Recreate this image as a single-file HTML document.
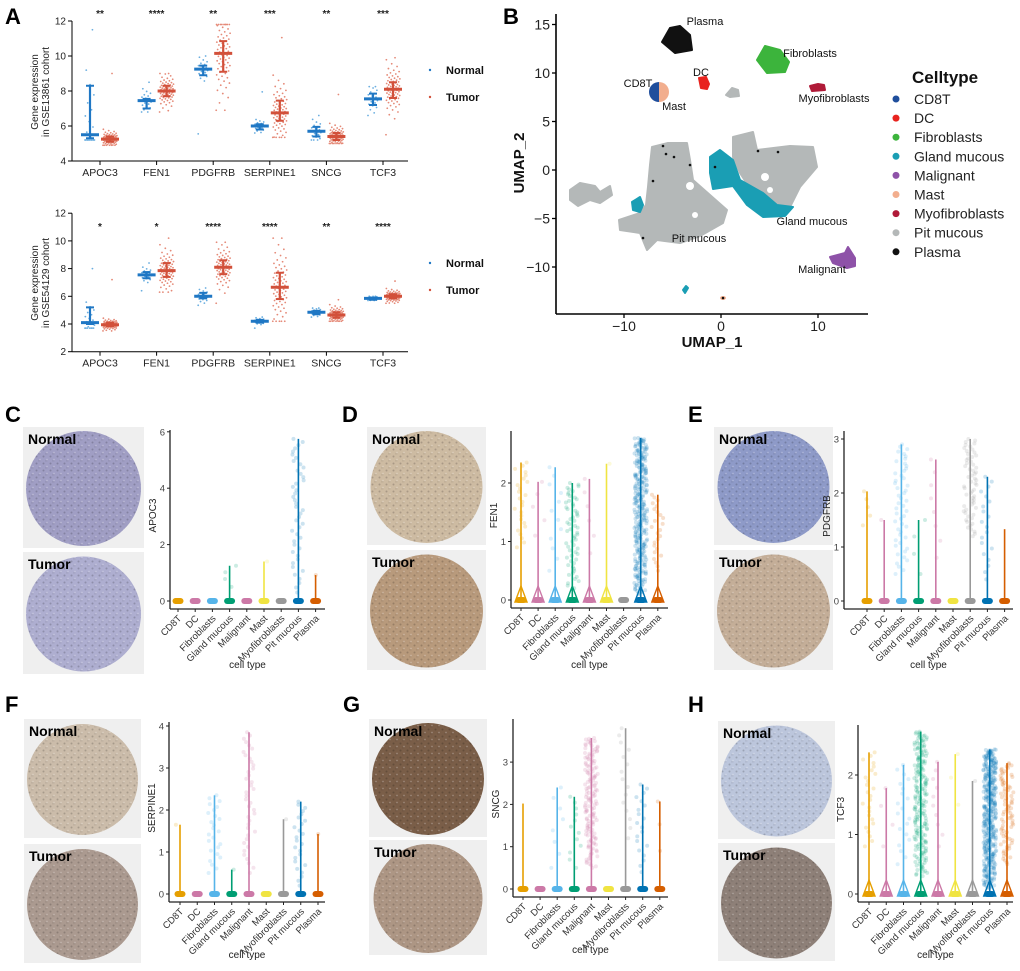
<!DOCTYPE html>
<html><head><meta charset="utf-8"><title>Figure</title>
<style>
html,body{margin:0;padding:0;background:#fff;}
svg{display:block;font-family:"Liberation Sans",Arial,sans-serif;}
</style></head>
<body>
<svg id="fig" width="1020" height="971" viewBox="0 0 1020 971" xmlns="http://www.w3.org/2000/svg">
<defs>
<pattern id="tex" width="7" height="7" patternUnits="userSpaceOnUse">
<circle cx="1.5" cy="1.5" r="1" fill="#000" fill-opacity="0.18"/>
<circle cx="5" cy="4.5" r="0.9" fill="#fff" fill-opacity="0.25"/>
<rect x="3" y="5.5" width="2.5" height="0.8" fill="#000" fill-opacity="0.12"/>
</pattern>
</defs>
</svg>
<script>
// ===== Panel A data =====
const genesA = ['APOC3','FEN1','PDGFRB','SERPINE1','SNCG','TCF3'];
const sigTop = ['**','****','**','***','**','***'];
const sigBot = ['*','*','****','****','**','****'];
const nMedTop = [5.5,7.45,9.25,6.0,5.7,7.55];
const nLoTop  = [5.3,7.0,8.9,5.8,5.4,7.2];
const nHiTop  = [8.3,7.55,9.45,6.1,5.95,7.85];
const nMinTop = [5.2,6.8,5.55,5.6,5.2,6.6];
const nMaxTop = [11.5,8.5,10.0,7.95,6.6,8.25];
const tMedTop = [5.25,8.0,10.15,6.75,5.4,8.1];
const tLoTop  = [5.1,7.7,9.1,6.3,5.2,7.6];
const tHiTop  = [5.4,8.3,10.85,7.45,5.6,8.5];
const tMinTop = [4.9,6.8,6.9,5.35,5.0,5.5];
const tMaxTop = [9.0,9.0,11.8,11.05,7.8,9.9];
const nMedBot = [4.1,7.55,6.0,4.2,4.85,5.85];
const nLoBot  = [4.0,7.3,5.85,4.1,4.7,5.75];
const nHiBot  = [5.2,7.75,6.25,4.3,4.95,5.9];
const nMinBot = [3.7,6.4,5.35,3.7,4.5,5.7];
const nMaxBot = [8.0,8.4,6.6,4.5,5.15,6.0];
const tMedBot = [3.95,7.85,8.1,6.65,4.65,6.0];
const tLoBot  = [3.85,7.4,7.6,5.8,4.45,5.85];
const tHiBot  = [4.1,8.4,8.6,7.7,4.85,6.15];
const tMinBot = [3.5,6.3,5.5,4.2,4.2,5.5];
const tMaxBot = [7.2,10.2,9.9,10.2,5.75,7.1];
const yTicksA = [4,6,8,10,12];
const yTicksA2 = [2,4,6,8,10,12];

// ===== Violin data =====
const cellTypes = ['CD8T','DC','Fibroblasts','Gland mucous','Malignant','Mast','Myofibroblasts','Pit mucous','Plasma'];
const cellColors = ['#E69F00','#CC79A7','#56B4E9','#009E73','#CC79A7','#F0E442','#999999','#0072B2','#D55E00'];
const apoc3Max = [0,0,0,1.25,0,1.4,0,5.75,0.92];
const apoc3Cnt = [0,0,0,4,0,1,0,45,1];
const apoc3Low = [0,0,0,0.5,0,1.4,0,0.3,0.9];
const fen1Max = [2.35,2.02,2.27,2.0,2.07,2.33,0,2.77,1.8];
const fen1Cnt = [25,5,12,60,6,1,0,300,25];
const fen1Low = [0.9,1.1,0.5,0.2,0.8,2.3,0,0.1,0.5];
const pdgfrbMax = [2.03,1.5,2.9,1.5,2.62,0,3.0,2.3,1.33];
const pdgfrbCnt = [5,1,50,4,8,0,60,20,0];
const pdgfrbLow = [1.4,1.5,0.5,0.5,0.8,0,1.2,0.4,0];
const serpMax = [1.65,0,2.35,0.58,3.85,0,1.78,2.2,1.43];
const serpCnt = [1,0,25,1,40,0,1,25,1];
const serpLow = [1.65,0,0.5,0.58,0.5,0,1.78,0.2,1.43];
const sncgMax = [2.02,0,2.4,2.18,3.57,0,3.8,2.47,2.07];
const sncgCnt = [0,0,8,12,150,0,15,20,3];
const sncgLow = [0,0,0.5,0.5,0.5,0,1.2,0.4,0.9];
const tcf3Max = [2.38,1.78,2.17,2.73,2.22,2.35,1.9,2.43,2.2];
const tcf3Cnt = [25,4,20,200,10,3,1,400,80];
const tcf3Low = [0.8,0.8,0.5,0.3,0.8,1.5,1.9,0.1,0.5];

// ===== UMAP legend =====
const umapTypes = ['CD8T','DC','Fibroblasts','Gland mucous','Malignant','Mast','Myofibroblasts','Pit mucous','Plasma'];
const umapColors = ['#1f4e9c','#e8231e','#3cb43c','#1a9eb4','#8e52a8','#f2ae8e','#b01a38','#b4b8b8','#111111'];
const umapXTicks = [-10,0,10];
const umapYTicks = [-10,-5,0,5,10,15];

const NS = 'http://www.w3.org/2000/svg';
const svg = document.getElementById('fig');
function mk(tag, attrs, parent, txt){
  const e = document.createElementNS(NS, tag);
  for (const k in attrs) e.setAttribute(k, attrs[k]);
  if (txt !== undefined) e.textContent = txt;
  (parent || svg).appendChild(e);
  return e;
}
function grp(name){
  const g = mk('g', {});
  
  
  return g;
}
function label(parent, name, x, y, txt, attrs){
  const a = Object.assign({x:x, y:y}, attrs || {});
  const t = mk('text', a, parent, txt);
  
  
  return t;
}
function zq(t){
  const p = Math.min(Math.max(t, 0.001), 0.999);
  return Math.log(p/(1-p))/1.7;
}
function gj(k){ return ((k*0.6180339887)%1) - 0.5; }
function hj(k){ const s = Math.sin(k*12.9898+78.233)*43758.5453; return (s - Math.floor(s)) - 0.5; }

[['A',5,24],['B',503,24],['C',5,422],['D',342,422],['E',688,422],['F',5,712],['G',343,712],['H',688,712]].forEach(l=>{
  label(svg, 'panel-label-'+l[0].toLowerCase(), l[1], l[2], l[0], {'font-size':22,'font-weight':'bold',fill:'#000'});
});

// ===== Panel A =====
function panelA(cfg){
  const g = grp(cfg.name);
  const y = v => cfg.yBase - (v - cfg.vBase) * cfg.ppu;
  const gx = i => 100 + 56.6*i;
  const ax = mk('line', {x1:72,y1:y(cfg.ticks[0]),x2:72,y2:y(12),stroke:'#000','stroke-width':1}, g);
   
  const xa = mk('line', {x1:72,y1:y(cfg.ticks[0]),x2:408,y2:y(cfg.ticks[0]),stroke:'#000','stroke-width':1}, g);
   
  cfg.ticks.forEach(t=>{
    mk('line',{x1:68,y1:y(t),x2:72,y2:y(t),stroke:'#000'},g);
    label(g,'y-tick-label',66,y(t)+3.5,String(t),{'font-size':10,'text-anchor':'end',fill:'#222'});
  });
  const yl = mk('text',{transform:`translate(38,${cfg.labelY}) rotate(-90)`,'font-size':10,'text-anchor':'middle',fill:'#222'},g);
   
  mk('tspan',{x:0,dy:0},yl,'Gene expression');
  mk('tspan',{x:0,dy:11},yl,cfg.cohort);
  genesA.forEach((gn,i)=>{
    mk('line',{x1:gx(i),y1:y(cfg.ticks[0]),x2:gx(i),y2:y(cfg.ticks[0])+4,stroke:'#000'},g);
    label(g,'x-tick-label',gx(i),y(cfg.ticks[0])+15,gn,{'font-size':10.5,'text-anchor':'middle',fill:'#222'});
    label(g,'significance-stars',gx(i),cfg.starY,cfg.sig[i],{'font-size':10,'text-anchor':'middle',fill:'#222','font-weight':'bold'});
    [[cfg.nMed,cfg.nLo,cfg.nHi,cfg.nMin,cfg.nMax,-10,'#1f77c4','#6aaee0',20,'normal',10],
     [cfg.tMed,cfg.tLo,cfg.tHi,cfg.tMin,cfg.tMax,10,'#d2503a','#e58a78',70,'tumor',14]].forEach(s=>{
      const cx = gx(i)+s[5];
      const n = s[8];
      const spread = (s[2][i]-s[1][i])/1.2;
      for(let k=0;k<n;k++){
        let v = s[0][i] + zq((k+0.5)/n)*spread;
        if(k===0) v = s[3][i];
        if(k===n-1) v = s[4][i];
        v = Math.min(Math.max(v,s[3][i]),s[4][i]);
        const jx = gj(k)*s[10];
        const d = mk('circle',{cx:cx+jx,cy:y(v),r:0.9,fill:s[7]},g);
        
        
      }
      const eb = mk('line',{x1:cx,y1:y(s[1][i]),x2:cx,y2:y(s[2][i]),stroke:s[6],'stroke-width':2.2},g);
      
      
      mk('line',{x1:cx-4,y1:y(s[1][i]),x2:cx+4,y2:y(s[1][i]),stroke:s[6],'stroke-width':2},g);
      mk('line',{x1:cx-4,y1:y(s[2][i]),x2:cx+4,y2:y(s[2][i]),stroke:s[6],'stroke-width':2},g);
      const md = mk('line',{x1:cx-9,y1:y(s[0][i]),x2:cx+9,y2:y(s[0][i]),stroke:s[6],'stroke-width':3},g);
      
      
    });
  });
  const lg = mk('g',{},g);
   
  mk('circle',{cx:430,cy:cfg.legY,r:1.2,fill:'#1f77c4'},lg);
  label(lg,'legend-entry-normal',446,cfg.legY+4,'Normal',{'font-size':11,'font-weight':'bold',fill:'#111'});
  mk('circle',{cx:430,cy:cfg.legY+27,r:1.2,fill:'#d2503a'},lg);
  label(lg,'legend-entry-tumor',446,cfg.legY+31,'Tumor',{'font-size':11,'font-weight':'bold',fill:'#111'});
}
panelA({name:'chart-gse13861',yBase:161,vBase:4,ppu:17.5,ticks:yTicksA,labelY:92,cohort:'in GSE13861 cohort',starY:17,sig:sigTop,
  nMed:nMedTop,nLo:nLoTop,nHi:nHiTop,nMin:nMinTop,nMax:nMaxTop,tMed:tMedTop,tLo:tLoTop,tHi:tHiTop,tMin:tMinTop,tMax:tMaxTop,legY:70});
panelA({name:'chart-gse54129',yBase:324,vBase:4,ppu:13.85,ticks:yTicksA2,labelY:283,cohort:'in GSE54129 cohort',starY:230,sig:sigBot,
  nMed:nMedBot,nLo:nLoBot,nHi:nHiBot,nMin:nMinBot,nMax:nMaxBot,tMed:tMedBot,tLo:tLoBot,tHi:tHiBot,tMin:tMinBot,tMax:tMaxBot,legY:263});

// ===== Panel B UMAP =====
(function(){
  const g = grp('umap-plot');
  const ux = u => 721 + 9.7*u;
  const uy = v => 170 - 9.7*v;
  const blobs = [
    ['pit-mucous-cluster','#b4b8b8','570,190 580,183 595,186 600,192 610,186 612,195 600,203 590,200 578,206 570,200'],
    ['pit-mucous-cluster','#b4b8b8','652,147 668,143 687,143 690,160 693,180 710,195 727,210 723,223 700,236 680,243 657,240 647,250 640,233 620,230 619,220 640,213 646,205 648,187 650,165'],
    ['pit-mucous-cluster','#b4b8b8','733,137 753,132 757,150 790,146 813,147 817,167 800,187 790,207 765,200 753,193 740,173 733,157'],
    ['gland-mucous-cluster','#1a9eb4','710,157 720,150 733,160 740,180 763,193 777,205 793,207 785,216 763,217 747,205 733,186 713,189 710,173'],
    ['gland-mucous-cluster','#1a9eb4','632,202 640,197 643,205 640,212 633,210'],
    ['pit-mucous-cluster','#b4b8b8','726,95 732,88 738,90 739,96 730,97'],
    ['plasma-cluster','#111111','662,42 670,28 680,26 690,35 692,50 675,53'],
    ['fibroblasts-cluster','#3cb43c','757,60 765,46 780,50 789,62 785,72 767,73'],
    ['myofibroblasts-cluster','#b01a38','810,86 818,84 824,85 825,90 812,91'],
    ['dc-cluster','#e8231e','699,78 706,77 709,84 707,89 701,88'],
    ['malignant-cluster','#8e52a8','830,257 845,253 848,247 855,258 855,266 847,268 833,263'],
    ['gland-mucous-cluster','#1a9eb4','683,290 686,286 688,288 685,293'],
  ];
  blobs.forEach(b=>{
    const p = mk('polygon',{points:b[2],fill:b[1],stroke:b[1],'stroke-width':2,'stroke-linejoin':'round'},g);
    
    
  });
  [[690,186,4],[695,215,3],[765,177,4],[770,190,3]].forEach(c=>mk('circle',{cx:c[0],cy:c[1],r:c[2],fill:'#fff'},g));
  const cd = mk('path',{d:'M659,82 A10,10 0 0 0 659,102 Z',fill:'#1f4e9c'},g);
   
  const ms = mk('path',{d:'M659,82 A10,10 0 0 1 659,102 Z',fill:'#f2ae8e'},g);
   
  mk('ellipse',{cx:723,cy:298,rx:3,ry:2,fill:'#f2ae8e'},g);
  mk('circle',{cx:723,cy:298,r:1.3,fill:'#111'},g);
  [[663,146],[666,154],[674,157],[690,165],[653,181],[643,238],[715,167],[758,151],[778,152]].forEach(c=>mk('circle',{cx:c[0],cy:c[1],r:1.3,fill:'#111'},g));
  const ya = mk('line',{x1:556,y1:14,x2:556,y2:314,stroke:'#000','stroke-width':1.6},g);
   
  const xa = mk('line',{x1:556,y1:314,x2:868,y2:314,stroke:'#000','stroke-width':1.6},g);
   
  umapYTicks.forEach(t=>{
    mk('line',{x1:552,y1:uy(t),x2:556,y2:uy(t),stroke:'#000','stroke-width':1.3},g);
    label(g,'y-tick-label',550,uy(t)+5,String(t).replace('-','\u2212'),{'font-size':14,'text-anchor':'end',fill:'#222'});
  });
  umapXTicks.forEach(t=>{
    mk('line',{x1:ux(t),y1:314,x2:ux(t),y2:318,stroke:'#000','stroke-width':1.3},g);
    label(g,'x-tick-label',ux(t),331,String(t).replace('-','\u2212'),{'font-size':14,'text-anchor':'middle',fill:'#222'});
  });
  label(g,'x-axis-title',712,347,'UMAP_1',{'font-size':15,'font-weight':'bold','text-anchor':'middle',fill:'#111'});
  label(g,'y-axis-title',0,0,'UMAP_2',{'font-size':15,'font-weight':'bold','text-anchor':'middle',fill:'#111',transform:'translate(524,163) rotate(-90)'});
  [['Plasma',705,25],['Fibroblasts',810,57],['DC',701,76],['CD8T',638,87],['Mast',674,110],['Myofibroblasts',834,102],['Gland mucous',812,225],['Pit mucous',699,242],['Malignant',822,273]].forEach(l=>{
    label(g,'cluster-label',l[1],l[2],l[0],{'font-size':11,'text-anchor':'middle',fill:'#111'});
  });
  const lg = mk('g',{},g);
   
  label(lg,'legend-title',912,83,'Celltype',{'font-size':17,'font-weight':'bold',fill:'#111'});
  umapTypes.forEach((t,i)=>{
    const yy = 99 + 19.1*i;
    mk('circle',{cx:896,cy:yy,r:3.5,fill:umapColors[i]},lg);
    label(lg,'legend-entry',914,yy+5,t,{'font-size':14,fill:'#222'});
  });
})();

// ===== Tissue images =====
function tissue(name, x, y, w, h, fill, dark, txt){
  const g = grp(name);
  mk('rect',{x:x,y:y,width:w,height:h,fill:'#efefef'},g);
  const r = Math.min(w,h)/2 - 3;
  const c = mk('circle',{cx:x+w/2,cy:y+h/2+1,r:r,fill:fill},g);
   
  mk('circle',{cx:x+w/2,cy:y+h/2+1,r:r,fill:'url(#tex)'},g);
  label(g,'tissue-label',x+5,y+17,txt,{'font-size':14,'font-weight':'bold',fill:'#000'});
}
tissue('ihc-c-normal',23,427,121,121,'#a09ec4','#6e6aa0','Normal');
tissue('ihc-c-tumor',23,552,121,122,'#aeaed0','#7874a8','Tumor');
tissue('ihc-d-normal',367,427,119,118,'#cdbba2','#8e6e50','Normal');
tissue('ihc-d-tumor',367,550,119,120,'#b89a7c','#7a5432','Tumor');
tissue('ihc-e-normal',714,427,119,118,'#8e9ac8','#5060a0','Normal');
tissue('ihc-e-tumor',714,550,119,120,'#c4ae98','#8a6e58','Tumor');
tissue('ihc-f-normal',24,719,117,119,'#cbbcaa','#8e7660','Normal');
tissue('ihc-f-tumor',24,844,117,119,'#ab9a90','#7a6058','Tumor');
tissue('ihc-g-normal',369,719,118,118,'#7a5e48','#3e2a1e','Normal');
tissue('ihc-g-tumor',369,840,118,115,'#ad9684','#6e4e38','Tumor');
tissue('ihc-h-normal',718,721,117,118,'#bcc6dc','#8292bc','Normal');
tissue('ihc-h-tumor',718,843,117,118,'#8e8078','#5a4a40','Tumor');

// ===== Violin panels =====
function violin(cfg){
  const g = grp(cfg.name);
  const y = v => cfg.y0 - v*cfg.ppu;
  const cx = i => cfg.cx0 + cfg.step*i;
  const axisY = cfg.y0 + 8;
  const ya = mk('line',{x1:cfg.ax,y1:cfg.top,x2:cfg.ax,y2:axisY,stroke:'#222','stroke-width':1.3},g);
   
  const xa = mk('line',{x1:cfg.ax,y1:axisY,x2:cfg.axEnd,y2:axisY,stroke:'#222','stroke-width':1.3},g);
   
  cfg.ticks.forEach(t=>{
    mk('line',{x1:cfg.ax-3,y1:y(t),x2:cfg.ax,y2:y(t),stroke:'#222'},g);
    label(g,'y-tick-label',cfg.ax-5,y(t)+3.5,String(t),{'font-size':9.5,'text-anchor':'end',fill:'#444'});
  });
  label(g,'y-axis-title',0,0,cfg.gene,{'font-size':10,'text-anchor':'middle',fill:'#222',transform:`translate(${cfg.ax-14},${(cfg.top+cfg.y0)/2}) rotate(-90)`});
  label(g,'x-axis-title',(cfg.ax+cfg.axEnd)/2,cfg.xtY,'cell type',{'font-size':10,'text-anchor':'middle',fill:'#222'});
  cellTypes.forEach((ct,i)=>{
    const x = cx(i), col = cellColors[i];
    mk('line',{x1:x,y1:axisY,x2:x,y2:axisY+3,stroke:'#222'},g);
    label(g,'x-tick-label',0,0,ct,{'font-size':9.5,'text-anchor':'end',fill:'#333',transform:`translate(${x+4},${axisY+10}) rotate(-45)`});
    const mx = cfg.max[i];
    const n = cfg.cnt[i], lo = cfg.low[i];
    for(let k=0;k<n;k++){
      const t = n===1 ? 1 : k/(n-1);
      const v = lo + (mx-lo)*Math.pow(t,0.9);
      const jx = hj(k+i*1000)*13;
      const d = mk('circle',{cx:x+jx,cy:y(v),r:2,fill:col,'fill-opacity':0.2},g);
      
      
    }
    if(mx>0.02){
      const ln = mk('line',{x1:x,y1:cfg.y0,x2:x,y2:y(mx),stroke:col,'stroke-width':1.6},g);
      
      
    }
    if(cfg.tri && mx>0.02){
      mk('path',{d:`M${x-6},${cfg.y0+2} L${x},${cfg.y0-14} L${x+6},${cfg.y0+2} Z`,fill:'none',stroke:col,'stroke-width':1.4},g);
    }
    const b = mk('rect',{x:x-5.5,y:cfg.y0-3,width:11,height:6,rx:3,fill:col},g);
    
    
  });
}
violin({name:'violin-apoc3',gene:'APOC3',ax:170,axEnd:325,y0:601,ppu:28.2,top:430,cx0:178,step:17.2,ticks:[0,2,4,6],max:apoc3Max,cnt:apoc3Cnt,low:apoc3Low,xtY:668});
violin({name:'violin-fen1',gene:'FEN1',ax:511,axEnd:668,y0:600,ppu:58.5,top:431,cx0:521,step:17.1,ticks:[0,1,2],max:fen1Max,cnt:fen1Cnt,low:fen1Low,xtY:668,tri:true});
violin({name:'violin-pdgfrb',gene:'PDGFRB',ax:844,axEnd:1013,y0:601,ppu:54,top:431,cx0:867,step:17.2,ticks:[0,1,2,3],max:pdgfrbMax,cnt:pdgfrbCnt,low:pdgfrbLow,xtY:668});
violin({name:'violin-serpine1',gene:'SERPINE1',ax:169,axEnd:325,y0:894,ppu:42,top:722,cx0:180,step:17.25,ticks:[0,1,2,3,4],max:serpMax,cnt:serpCnt,low:serpLow,xtY:958});
violin({name:'violin-sncg',gene:'SNCG',ax:513,axEnd:668,y0:889,ppu:42.3,top:719,cx0:523,step:17.1,ticks:[0,1,2,3],max:sncgMax,cnt:sncgCnt,low:sncgLow,xtY:953});
violin({name:'violin-tcf3',gene:'TCF3',ax:858,axEnd:1013,y0:894,ppu:59.5,top:725,cx0:869,step:17.25,ticks:[0,1,2],max:tcf3Max,cnt:tcf3Cnt,low:tcf3Low,xtY:958,tri:true});
</script>
</body></html>
